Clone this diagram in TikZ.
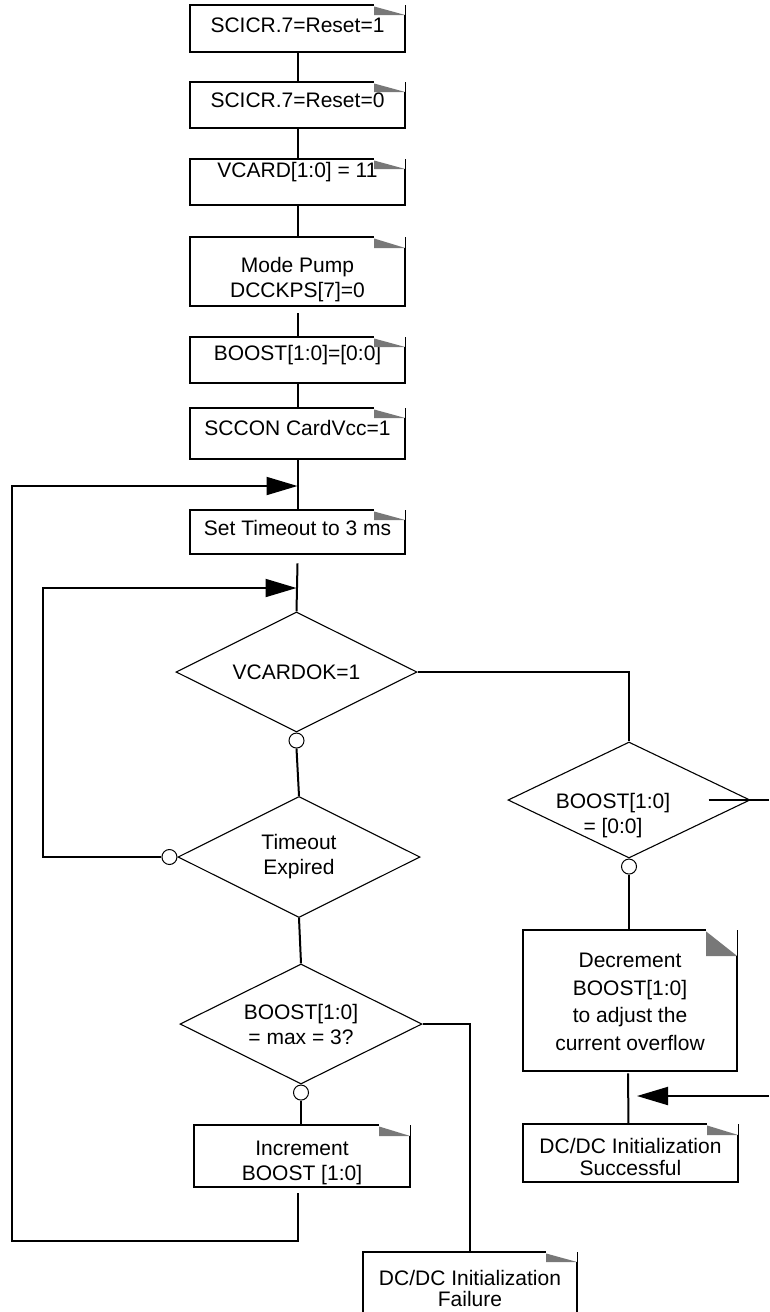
\documentclass[tikz,border=0pt]{standalone}
\usepackage{fontspec}
\setmainfont{Liberation Sans}
\usetikzlibrary{shapes.geometric,arrows.meta,positioning}

\definecolor{foldgray}{gray}{0.47}
\newcommand{\boxfont}{\fontsize{21}{25}\selectfont}
% box outline with the folded corner
\newcommand{\foldframe}[2]{%
  \fill[foldgray] ([xshift=-31pt,yshift=-1.5pt]#1.north east) -- ([yshift=-#2]#1.north east) -- ([xshift=-31pt,yshift=-#2]#1.north east) -- cycle;
  \draw[line width=2pt] ([xshift=-31pt]#1.north east) -- (#1.north west) -- (#1.south west) -- (#1.south east) -- ([yshift=-#2]#1.north east);
  \draw[line width=0.6pt] ([yshift=-#2]#1.north east) -- (#1.north east);
}

\tikzset{
  flowbox/.style={minimum width=215pt, inner xsep=0pt, inner ysep=0pt, anchor=north, align=center, font=\boxfont},
  textspan/.style 2 args={text height=#1pt, text depth=#2pt},
  boxtext/.style={align=center, font=\boxfont, inner sep=0pt},
  decide/.style={diamond, draw, line width=1.1pt, aspect=2, inner sep=0pt, align=center, font=\boxfont},
  joint/.style={circle, draw, fill=white, line width=1pt, minimum size=15pt, inner sep=0pt},
  wire/.style={line width=2pt},
  loopback/.style={wire, -{Triangle[length=31pt,width=18pt]}},
}

\begin{document}
\begin{tikzpicture}[x=1pt,y=-1pt]
\useasboundingbox (0,0) rectangle (769,1312);

% main column
\node[flowbox, textspan={27}{20}] (reset1) at (297.5,5) {SCICR.7=Reset=1};
\node[flowbox, textspan={25}{21}] (reset0) at (297.5,82) {SCICR.7=Reset=0};
\node[flowbox, textspan={18}{28}] (vcard) at (297.5,159) {VCARD[1:0] = 11};
\node[flowbox, minimum height=69pt, label={[boxtext,yshift=-7.5pt]center:{Mode Pump\\DCCKPS[7]=0}}] (pump) at (297.5,237) {};
\node[flowbox, textspan={23}{23}] (boost0) at (297.5,337) {BOOST[1:0]=[0:0]};
\node[flowbox, textspan={27}{24}] (cardvcc) at (297.5,408) {SCCON CardVcc=1};
\node[flowbox, textspan={25}{19}] (timeout) at (297.5,510) {Set Timeout to 3 ms};

% decisions
\node[decide, minimum width=241pt, minimum height=120pt] (vcardok) at (296.5,672) {VCARDOK=1};
\node[decide, minimum width=242pt, minimum height=116pt, label={[boxtext,xshift=-16pt,yshift=-15.5pt]center:{BOOST[1:0]\\= [0:0]}}] (boostzero) at (629,800) {};
\node[decide, minimum width=242pt, minimum height=121pt] (expired) at (299,857) {Timeout\\Expired};
\node[decide, minimum width=242pt, minimum height=120pt] (boostmax) at (301,1024) {BOOST[1:0]\\= max = 3?};

\node[joint, below=0pt of vcardok] (j1) {};
\node[joint, below=0pt of boostzero] (j2) {};
\node[joint, left=0pt of expired] (j3) {};
\node[joint, below=0pt of boostmax] (j4) {};

% actions after the tests
\node[flowbox, minimum width=216pt, minimum height=62pt, label={[boxtext,yshift=-6.5pt]center:{Increment\\BOOST [1:0]}}] (inc) at (302,1125) {};
\node[flowbox, minimum width=214pt, minimum height=141pt, label={[boxtext,yshift=-1pt]center:{Decrement\\[2.5pt]BOOST[1:0]\\[2.5pt]to adjust the\\[2.5pt]current overflow}}] (dec) at (630,930) {};
\node[flowbox, minimum height=58pt, label={[boxtext,yshift=-3.4pt]center:{DC/DC Initialization\\[-3pt]Successful}}] (succ) at (630.5,1124) {};
\node[flowbox, minimum width=214pt, minimum height=68pt, label={[boxtext,yshift=-2.4pt]center:{DC/DC Initialization\\[-4pt]Failure}}] (fail) at (470,1252) {};

\foldframe{reset1}{10pt}
\foldframe{reset0}{10pt}
\foldframe{vcard}{10pt}
\foldframe{pump}{11pt}
\foldframe{boost0}{10pt}
\foldframe{cardvcc}{10pt}
\foldframe{timeout}{10pt}
\foldframe{inc}{11pt}
\foldframe{dec}{26pt}
\foldframe{succ}{11pt}
\foldframe{fail}{10pt}

\coordinate (m1) at (297.5,486);
\coordinate (m2) at (296.5,588);
\coordinate (loopA) at (12,1241);
\coordinate (loopB) at (43,588);
\coordinate (outR) at (769,800);
\coordinate (inR) at (769,1096);
\coordinate (inTip) at (637,1096);

% connectors
\draw[wire] (reset1.south) -- (reset0.north);
\draw[wire] (reset0.south) -- (vcard.north);
\draw[wire] (vcard.south) -- (pump.north);
\draw[wire] ([yshift=-7pt]pump.south) -- (boost0.north);
\draw[wire] (boost0.south) -- (cardvcc.north);
\draw[wire] (cardvcc.south) -- (timeout.north);
\draw[wire] ([yshift=-9pt]timeout.south) -- (vcardok.north);
\draw[wire] (j1.south) -- (expired.north);
\draw[wire] (expired.south) -- (boostmax.north);
\draw[wire] (j4.south) -- (j4.south |- inc.north);
\draw[wire] (boostmax.east) -| (fail.north);
\draw[wire] (vcardok.east) -| (boostzero.north);
\draw[wire] ([xshift=-42pt]boostzero.east) -- (outR);
\draw[wire] (j2.south) -- (j2.south |- dec.north);
\draw[wire] ([xshift=-2pt,yshift=-2pt]dec.south) -- ([xshift=-2pt]succ.north);
\draw[loopback] (inR) -- (inTip);
\draw[loopback] (j3.west) -| (loopB) -- (m2);
\draw[loopback] ([xshift=-4pt,yshift=-6pt]inc.south) |- (loopA) |- (m1);
\end{tikzpicture}
\end{document}
